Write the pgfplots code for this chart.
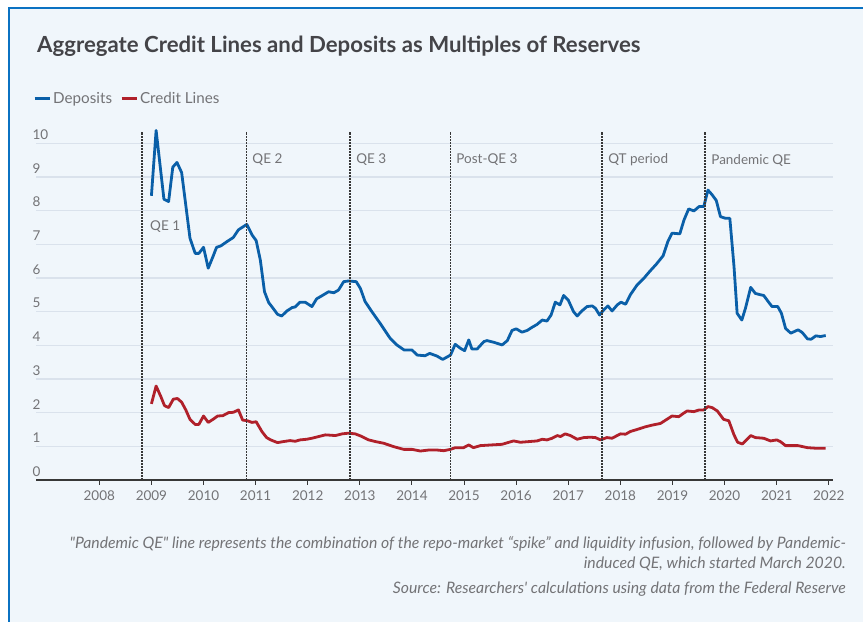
\documentclass[border=0pt]{standalone}
\usepackage{fontspec}
\setmainfont{Lato}[Ligatures=TeXOff]
\usepackage{pgfplots}
\pgfplotsset{compat=1.18}
\definecolor{bg}{RGB}{240,246,251}
\definecolor{frameblue}{RGB}{11,114,194}
\definecolor{depblue}{RGB}{10,95,168}
\definecolor{credred}{RGB}{176,32,42}
\definecolor{gridc}{RGB}{218,226,236}
\definecolor{txtgray}{RGB}{115,115,118}
\definecolor{titlegray}{RGB}{68,68,72}
\definecolor{axisc}{RGB}{55,55,55}
\newcommand{\lbl}{\fontsize{13.5bp}{16bp}\selectfont}
\newcommand{\leg}{\fontsize{15.2bp}{18bp}\selectfont}
\newcommand{\foot}{\fontsize{15.8bp}{19bp}\selectfont}

\pgfplotstableread{
x y
2009.00 8.44
2009.09 10.38
2009.24 8.34
2009.33 8.27
2009.41 9.29
2009.49 9.43
2009.58 9.13
2009.74 7.18
2009.84 6.73
2009.91 6.73
2010.00 6.91
2010.09 6.29
2010.18 6.63
2010.25 6.91
2010.33 6.95
2010.45 7.08
2010.57 7.20
2010.67 7.43
2010.83 7.59
2010.93 7.28
2011.01 7.11
2011.09 6.53
2011.17 5.59
2011.25 5.27
2011.31 5.15
2011.42 4.92
2011.50 4.87
2011.60 5.02
2011.70 5.12
2011.76 5.14
2011.85 5.28
2011.95 5.28
2012.08 5.15
2012.17 5.38
2012.27 5.47
2012.40 5.59
2012.50 5.56
2012.59 5.64
2012.69 5.89
2012.78 5.91
2012.93 5.89
2013.01 5.69
2013.10 5.30
2013.23 5.00
2013.39 4.65
2013.58 4.21
2013.71 4.01
2013.85 3.86
2014.00 3.86
2014.10 3.71
2014.25 3.69
2014.34 3.76
2014.48 3.68
2014.59 3.58
2014.74 3.71
2014.83 4.03
2014.93 3.91
2015.01 3.84
2015.09 4.16
2015.15 3.89
2015.25 3.89
2015.38 4.11
2015.44 4.14
2015.57 4.09
2015.73 4.01
2015.83 4.14
2015.92 4.44
2016.00 4.49
2016.11 4.39
2016.21 4.44
2016.30 4.53
2016.40 4.62
2016.50 4.75
2016.59 4.72
2016.67 4.90
2016.75 5.28
2016.84 5.20
2016.91 5.48
2017.00 5.34
2017.10 5.00
2017.17 4.87
2017.26 5.02
2017.36 5.15
2017.46 5.17
2017.52 5.10
2017.60 4.90
2017.68 5.05
2017.76 5.17
2017.84 5.02
2017.94 5.20
2018.01 5.28
2018.10 5.22
2018.19 5.50
2018.32 5.79
2018.45 5.99
2018.56 6.19
2018.69 6.41
2018.82 6.66
2018.91 7.08
2018.99 7.33
2019.14 7.31
2019.22 7.72
2019.31 8.05
2019.41 7.99
2019.51 8.12
2019.60 8.12
2019.68 8.61
2019.76 8.47
2019.84 8.30
2019.92 7.82
2020.02 7.77
2020.10 7.77
2020.18 6.34
2020.24 4.95
2020.33 4.75
2020.40 5.10
2020.50 5.72
2020.59 5.54
2020.69 5.50
2020.75 5.48
2020.85 5.27
2020.91 5.15
2021.02 5.15
2021.09 4.95
2021.17 4.50
2021.27 4.36
2021.41 4.46
2021.49 4.38
2021.59 4.19
2021.66 4.18
2021.75 4.28
2021.84 4.26
2021.94 4.29
}\deposits

\pgfplotstableread{
x y
2009.00 2.26
2009.09 2.79
2009.18 2.48
2009.25 2.21
2009.33 2.15
2009.42 2.40
2009.50 2.42
2009.58 2.31
2009.66 2.08
2009.74 1.80
2009.84 1.65
2009.91 1.65
2010.00 1.90
2010.09 1.71
2010.19 1.81
2010.27 1.90
2010.37 1.91
2010.48 2.00
2010.57 2.01
2010.67 2.08
2010.75 1.78
2010.84 1.76
2010.93 1.71
2011.01 1.73
2011.12 1.44
2011.21 1.26
2011.29 1.19
2011.42 1.11
2011.53 1.14
2011.66 1.17
2011.76 1.15
2011.85 1.19
2011.98 1.21
2012.08 1.24
2012.21 1.29
2012.34 1.34
2012.53 1.32
2012.66 1.37
2012.78 1.39
2012.91 1.37
2013.01 1.31
2013.17 1.19
2013.30 1.14
2013.46 1.09
2013.65 0.99
2013.84 0.91
2014.00 0.91
2014.16 0.86
2014.32 0.89
2014.48 0.89
2014.61 0.87
2014.74 0.91
2014.83 0.96
2014.99 0.96
2015.09 1.04
2015.18 0.96
2015.31 1.02
2015.51 1.04
2015.73 1.06
2015.86 1.12
2015.95 1.16
2016.08 1.12
2016.24 1.14
2016.40 1.16
2016.50 1.21
2016.59 1.19
2016.69 1.24
2016.79 1.32
2016.85 1.29
2016.94 1.37
2017.04 1.32
2017.17 1.21
2017.30 1.26
2017.42 1.27
2017.52 1.26
2017.62 1.19
2017.74 1.26
2017.84 1.24
2018.00 1.37
2018.10 1.36
2018.19 1.44
2018.32 1.50
2018.48 1.58
2018.61 1.63
2018.77 1.68
2018.87 1.78
2018.99 1.90
2019.12 1.88
2019.21 1.98
2019.28 2.05
2019.41 2.03
2019.51 2.08
2019.60 2.08
2019.68 2.18
2019.76 2.15
2019.86 2.05
2019.98 1.80
2020.08 1.76
2020.18 1.34
2020.25 1.12
2020.34 1.07
2020.40 1.16
2020.50 1.32
2020.59 1.26
2020.75 1.24
2020.88 1.16
2021.00 1.19
2021.07 1.14
2021.17 1.02
2021.27 1.02
2021.41 1.02
2021.59 0.96
2021.78 0.94
2021.94 0.94
}\credit

\begin{document}
\begin{tikzpicture}[x=1bp,y=1bp]
\fill[white] (0,0) rectangle (863,622);
\fill[bg] (9,0) rectangle (863,614);
\draw[frameblue, line width=2.5bp] (9,0) -- (9,614) -- (863,614);
\node[anchor=base west, inner sep=0, text=titlegray, font=\bfseries\fontsize{22.2bp}{26bp}\selectfont] at (37,569) {Aggregate Credit Lines and Deposits as Multiples of Reserves};

\begin{axis}[
  scale only axis, width=797bp, height=350.2bp,
  at={(36bp,142bp)}, anchor=south west,
  xmin=2006.785, xmax=2022.08, ymin=0, ymax=10.4,
  clip=false,
  axis x line*=bottom, axis y line*=left,
  y axis line style={draw=none},
  x axis line style={draw=axisc, line width=1.3bp},
  xtick={2008,2009,...,2022}, ytick={0,1,...,10},
  /pgf/number format/.cd, 1000 sep={}, assume math mode=true, /pgfplots/.cd,
  tick align=outside, major tick length=5bp,
  xtick style={draw=axisc, line width=1bp},
  ytick style={draw=none},
  ymajorgrids, grid style={gridc, line width=1.2bp},
  xticklabel style={text=txtgray, font=\lbl, yshift=-2bp},
  yticklabel style={anchor=south west, text=txtgray, font=\lbl, xshift=-2bp, yshift=0bp},
  legend style={at={(axis description cs:0,1)}, anchor=west, xshift=-3bp, yshift=31bp,
    draw=none, fill=none, font=\leg, text=txtgray, inner sep=0pt},
  legend columns=2,
  legend image code/.code={\draw[#1, line width=3bp] (0bp,0bp) -- (15bp,0bp);},
  /tikz/every even column/.append style={column sep=6bp},
]
\addplot[depblue, line width=2.8bp, line join=round] table {\deposits};
\addlegendentry{Deposits}
\addplot[credred, line width=2.8bp, line join=round] table {\credit};
\addlegendentry{Credit Lines}

\pgfplotsinvokeforeach{2008.82,2010.82,2012.815,2014.735,2017.648,2019.626}{
  \addplot[forget plot, draw=axisc, line width=1.5bp, dash pattern=on 1.5bp off 1.5bp] coordinates {(#1,0) (#1,10.34)};
}
\node[anchor=west, inner sep=0, text=txtgray, font=\lbl] at (axis cs:2008.82,7.51) [xshift=8bp] {QE 1};
\node[anchor=west, inner sep=0, text=txtgray, font=\lbl] at (axis cs:2010.82,9.5) [xshift=6bp] {QE 2};
\node[anchor=west, inner sep=0, text=txtgray, font=\lbl] at (axis cs:2012.815,9.5) [xshift=6bp] {QE 3};
\node[anchor=west, inner sep=0, text=txtgray, font=\lbl] at (axis cs:2014.735,9.5) [xshift=6bp] {Post-QE 3};
\node[anchor=west, inner sep=0, text=txtgray, font=\lbl] at (axis cs:2017.648,9.5) [xshift=6bp] {QT period};
\node[anchor=west, inner sep=0, text=txtgray, font=\lbl] at (axis cs:2019.626,9.5) [xshift=6bp] {Pandemic QE};
\end{axis}

\node[anchor=base east, inner sep=0, text=txtgray, font=\itshape\foot] at (846,73) {"Pandemic QE" line represents the combination of the repo-market “spike” and liquidity infusion, followed by Pandemic-};
\node[anchor=base east, inner sep=0, text=txtgray, font=\itshape\foot] at (846,53.5) {induced QE, which started March 2020.};
\node[anchor=base east, inner sep=0, text=txtgray, font=\itshape\foot] at (846,28) {Source: Researchers' calculations using data from the Federal Reserve};

\pgfresetboundingbox
\useasboundingbox (0,0) rectangle (863,622);
\end{tikzpicture}
\end{document}
